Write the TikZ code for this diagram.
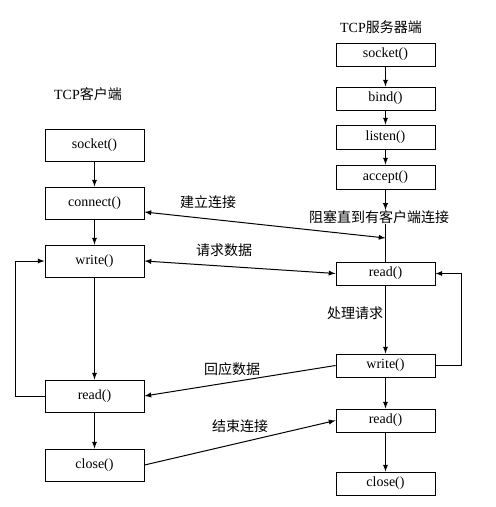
\documentclass[tikz,border=0pt]{standalone}
\usepackage{fontspec}
\setmainfont{Liberation Serif}
\newfontfamily\cjk{Noto Sans CJK SC}
\usepackage{tikz}
\usetikzlibrary{calc}

\begin{document}
\begin{tikzpicture}[x=0.75pt,y=-0.75pt,line width=0.75pt,>=latex,
		font=\fontsize{10.5}{12}\selectfont,
		cbox/.style={draw,minimum width=74.25pt,minimum height=24pt,inner sep=0pt},
		sbox/.style={draw,minimum width=74.25pt,minimum height=17.25pt,inner sep=0pt},
		lbl/.style={inner sep=0pt,font=\fontsize{10.5}{12}\selectfont\cjk}]
		\useasboundingbox (0,0) rectangle (496,507);
		% client
		\node at (88,94) (ctitle) {TCP{\cjk 客户端}};
		\node[cbox] at (94.5,145) (csocket) {socket()};
		\node[cbox] at (94.5,203) (cconnect) {connect()};
		\node[cbox] at (94.5,261) (cwrite) {write()};
		\node[cbox] at (94.5,396) (cread) {read()};
		\node[cbox] at (94.5,465) (cclose) {close()};
		\draw[->] (csocket) -- (cconnect);
		\draw[->] (cconnect) -- (cwrite);
		\draw[->] (cwrite) -- (cread);
		\draw[->] (cread) -- (cclose);
		\draw[->] (cread.west) -- ++(-29,0) |- (cwrite.west);
		% server
		\node at (381,27) (stitle) {TCP{\cjk 服务器端}};
		\node[sbox] at (385.5,54.5) (ssocket) {socket()};
		\node[sbox] at (385.5,98.5) (sbind) {bind()};
		\node[sbox,minimum height=18pt] at (385.5,137) (slisten) {listen()};
		\node[sbox,minimum height=18pt] at (385.5,177) (saccept) {accept()};
		\node[lbl] at (379,217) (sblock) {阻塞直到有客户端连接};
		\node[sbox] at (385.5,273.5) (sread) {read()};
		\node[sbox] at (385.5,365.5) (swrite) {write()};
		\node[sbox] at (385.5,420.5) (sreadb) {read()};
		\node[sbox] at (385.5,483.5) (sclose) {close()};
		\coordinate (sconn) at (385.5,238);
		\draw[->] (ssocket) -- (sbind);
		\draw[->] (sbind) -- (slisten);
		\draw[->] (slisten) -- (saccept);
		\draw[->] (saccept) -- (saccept |- sblock.north);
		\draw (saccept |- sblock.south) -- (sread.north);
		\draw[->] (sread) -- (swrite);
		\draw[->] (swrite) -- (sreadb);
		\draw[->] (sreadb) -- (sclose);
		\draw[->] (swrite.east) -- ++(26,0) |- (sread.east);
		\node[lbl] at (355,313) (sproc) {处理请求};
		% between
		\draw[<->] ($(cconnect.east)+(0,9)$) -- (sconn);
		\node[lbl] at (208,202) (lconn) {建立连接};
		\draw[<->] (cwrite.east) -- (sread.west);
		\node[lbl] at (224,250) (lreq) {请求数据};
		\draw[->] (swrite.west) -- (cread.east);
		\node[lbl] at (232,369) (lresp) {回应数据};
		\draw[->] (cclose.east) -- (sreadb.west);
		\node[lbl] at (240,426) (lend) {结束连接};
\end{tikzpicture}
\end{document}
